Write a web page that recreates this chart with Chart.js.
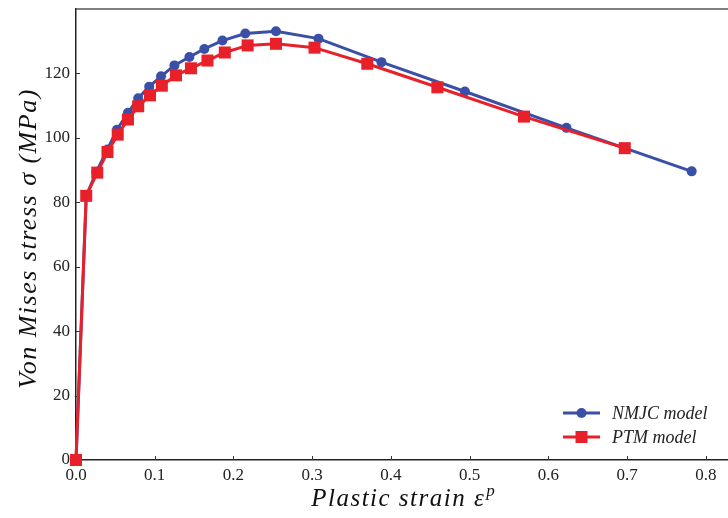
<!DOCTYPE html>
<html>
<head>
<meta charset="utf-8">
<title>Von Mises stress vs plastic strain</title>
<script src="https://cdn.jsdelivr.net/npm/chart.js"></script>
<style>
    html, body { margin: 0; padding: 0; background: #fff; overflow: hidden; }
    #wrap { width: 740px; height: 518px; }
</style>
</head>
<body>
<div id="wrap"><canvas id="stressChart" width="740" height="518"></canvas></div>

<script>
    // NMJC model curve
    const strainNmjc = [0, 0.013, 0.026, 0.040, 0.052, 0.066, 0.079, 0.093, 0.108, 0.125, 0.144, 0.163, 0.186, 0.215, 0.254, 0.308, 0.388, 0.494, 0.623, 0.782];
    const stressNmjc = [0, 82.0, 89.5, 96.4, 102.5, 107.8, 112.3, 115.9, 119.1, 122.5, 125.1, 127.6, 130.2, 132.4, 133.1, 130.8, 123.5, 114.4, 103.1, 89.6];

    // PTM model curve
    const strainPtm = [0, 0.013, 0.027, 0.040, 0.053, 0.066, 0.079, 0.094, 0.109, 0.127, 0.146, 0.167, 0.189, 0.218, 0.254, 0.303, 0.370, 0.459, 0.569, 0.697];
    const stressPtm = [0, 82.0, 89.2, 95.6, 101.0, 105.7, 109.8, 113.2, 116.2, 119.4, 121.6, 124.0, 126.5, 128.7, 129.2, 128.0, 123.0, 115.7, 106.6, 96.8];

    const xTicks = [0, 0.1, 0.2, 0.3, 0.4, 0.5, 0.6, 0.7, 0.8];
    const yTicks = [0, 20, 40, 60, 80, 100, 120];

    const BLUE = '#3a4fa6';
    const RED = '#e8202a';
    const SERIF = '"Liberation Serif", "DejaVu Serif", serif';

    const toPoints = (xs, ys) => xs.map((x, i) => ({ x: x, y: ys[i] }));

    // inward ticks, top spine, axis titles, legend
    const decorations = {
        id: 'decorations',
        beforeDatasetsDraw(chart) {
            const { ctx, chartArea: a, scales: { x, y } } = chart;
            ctx.save();
            ctx.strokeStyle = '#333';
            ctx.lineWidth = 1;
            xTicks.forEach(v => {
                const px = Math.round(x.getPixelForValue(v)) + 0.5;
                ctx.beginPath(); ctx.moveTo(px, a.bottom); ctx.lineTo(px, a.bottom - 4); ctx.stroke();
            });
            yTicks.forEach(v => {
                const py = Math.round(y.getPixelForValue(v)) + 0.5;
                ctx.beginPath(); ctx.moveTo(a.left, py); ctx.lineTo(a.left + 4, py); ctx.stroke();
            });
            ctx.strokeStyle = '#555';
            ctx.lineWidth = 1.5;
            ctx.beginPath(); ctx.moveTo(a.left, a.top); ctx.lineTo(a.right, a.top); ctx.stroke();
            ctx.restore();
        },
        afterDraw(chart) {
            const { ctx, chartArea: a } = chart;
            ctx.save();
            ctx.fillStyle = '#111';
            ctx.textBaseline = 'alphabetic';
            ctx.letterSpacing = '1.5px';

            // x axis title, with superscript p
            const main = 'Plastic strain ε';
            ctx.font = 'italic 25px ' + SERIF;
            const w1 = ctx.measureText(main).width;
            ctx.font = 'italic 17px ' + SERIF;
            const w2 = ctx.measureText('p').width;
            const cx = (a.left + a.right) / 2;
            const start = cx - (w1 + w2 + 1) / 2;
            ctx.font = 'italic 25px ' + SERIF;
            ctx.textAlign = 'left';
            ctx.fillText(main, start, 506);
            ctx.font = 'italic 17px ' + SERIF;
            ctx.fillText('p', start + w1 + 1, 496);

            // y axis title
            ctx.font = 'italic 26px ' + SERIF;
            ctx.translate(36, (a.top + a.bottom) / 2 + 4);
            ctx.rotate(-Math.PI / 2);
            ctx.textAlign = 'center';
            ctx.fillText('Von Mises stress σ (MPa)', 0, 0);
            ctx.setTransform(1, 0, 0, 1, 0, 0);
            ctx.letterSpacing = '0px';

            // legend
            const items = [
                { label: 'NMJC model', color: BLUE, style: 'circle', y: 413 },
                { label: 'PTM model', color: RED, style: 'rect', y: 437 }
            ];
            items.forEach(it => {
                ctx.strokeStyle = it.color;
                ctx.fillStyle = it.color;
                ctx.lineWidth = 3;
                ctx.beginPath(); ctx.moveTo(563, it.y); ctx.lineTo(600, it.y); ctx.stroke();
                ctx.beginPath();
                if (it.style === 'circle') {
                    ctx.arc(581.5, it.y, 5, 0, Math.PI * 2);
                } else {
                    ctx.rect(575.5, it.y - 6, 12, 12);
                }
                ctx.fill();
                ctx.fillStyle = '#222';
                ctx.font = 'italic 18px ' + SERIF;
                ctx.textAlign = 'left';
                ctx.textBaseline = 'middle';
                ctx.fillText(it.label, 612, it.y + 1);
            });
            ctx.restore();
        }
    };

    new Chart(document.getElementById('stressChart'), {
        type: 'line',
        data: {
            datasets: [
                {
                    label: 'PTM model',
                    data: toPoints(strainPtm, stressPtm),
                    borderColor: RED,
                    backgroundColor: RED,
                    borderWidth: 3,
                    pointStyle: 'rect',
                    pointRadius: 8.5,
                    pointBorderWidth: 0,
                    tension: 0,
                    clip: false,
                    order: 0
                },
                {
                    label: 'NMJC model',
                    data: toPoints(strainNmjc, stressNmjc),
                    borderColor: BLUE,
                    backgroundColor: BLUE,
                    borderWidth: 3,
                    pointStyle: 'circle',
                    pointRadius: 5,
                    pointBorderWidth: 0,
                    tension: 0,
                    clip: false,
                    order: 1
                }
            ]
        },
        options: {
            responsive: false,
            animation: false,
            layout: { padding: { top: 9, right: 0, left: 0, bottom: 0 } },
            plugins: {
                legend: { display: false },
                tooltip: { enabled: false }
            },
            scales: {
                x: {
                    type: 'linear',
                    min: 0,
                    max: 0.8326,
                    afterFit: s => { s.height = 58; },
                    afterBuildTicks: s => { s.ticks = xTicks.map(v => ({ value: v })); },
                    grid: { display: false, drawTicks: false },
                    border: { display: true, color: '#222', width: 1.5 },
                    ticks: {
                        padding: 5,
                        color: '#222',
                        font: { family: SERIF, size: 17 },
                        callback: v => v.toFixed(1)
                    }
                },
                y: {
                    type: 'linear',
                    min: 0,
                    max: 140,
                    afterFit: s => { s.width = 76; s.paddingTop = 0; s.paddingBottom = 0; },
                    afterBuildTicks: s => { s.ticks = yTicks.map(v => ({ value: v })); },
                    grid: { display: false, drawTicks: false },
                    border: { display: true, color: '#222', width: 1.5 },
                    ticks: {
                        padding: 6,
                        color: '#222',
                        font: { family: SERIF, size: 17 }
                    }
                }
            }
        },
        plugins: [decorations]
    });
</script>
</body>
</html>
